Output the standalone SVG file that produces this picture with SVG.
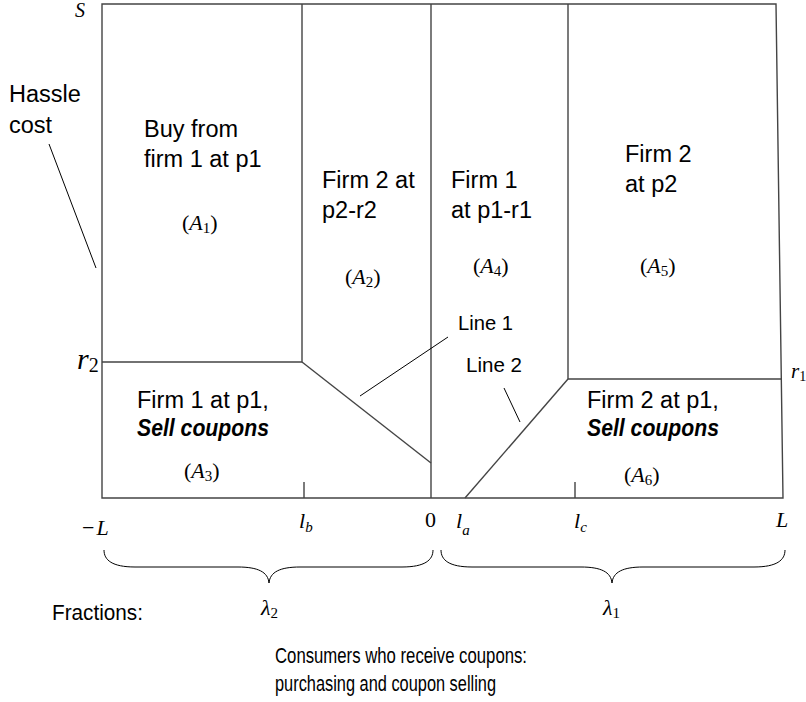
<svg xmlns="http://www.w3.org/2000/svg" width="806" height="702" viewBox="0 0 806 702">
<style>
.frame{fill:none;stroke:#444;stroke-width:1.4}
.ptr{fill:none;stroke:#000;stroke-width:1}
.t{font-family:"Liberation Sans",Arial,sans-serif;font-size:23.5px;fill:#000}
.b{font-family:"Liberation Sans",Arial,sans-serif;font-size:22px;fill:#000}
.bi{font-weight:bold;font-style:italic}
.m{font-family:"Liberation Serif","Times New Roman",serif;font-size:22px;fill:#000}
.i{font-style:italic}
.sub{font-size:15px}
</style>
<rect width="806" height="702" fill="#fff"/>
<g id="connectors">
<path class="frame" d="M102,4 L776,4 L783,498 L102,498 Z"/>
<path class="frame" d="M302,4 L302,362 L102,362"/>
<path class="frame" d="M302,362 L431,463"/>
<path class="frame" d="M431,4 L431,498"/>
<path class="frame" d="M568,4 L568,379 L782,379"/>
<path class="frame" d="M568,379 L465,498"/>
<path class="frame" d="M304,482 L304,498 M575,482 L575,498"/>
<path class="ptr" d="M49,144 L96,268"/>
<path class="ptr" d="M360,396 L448,337"/>
<path class="ptr" d="M504,388 L520,422"/>
<path class="ptr" d="M104,550 C104,560 112,567 135,567 L238,567 C258,567 268,572 269,583 C270,572 280,567 300,567 L402,567 C425,567 433,560 433,550"/>
<path class="ptr" d="M441,550 C441,560 449,567 472,567 L581,567 C601,567 611,572 612,583 C613,572 623,567 643,567 L754,567 C777,567 785,560 785,550"/>
</g>
<g id="axis-labels">
<text class="m i" x="75" y="17" style="font-size:20px">S</text>
<text class="m" x="77" y="369" style="font-size:30px"><tspan class="i">r</tspan><tspan style="font-size:20px" dy="3">2</tspan></text>
<text class="m" x="791" y="378" style="font-size:21px"><tspan class="i">r</tspan><tspan style="font-size:14px" dy="3">1</tspan></text>
<text class="m" x="82" y="535">−<tspan class="i" dx="2">L</tspan></text>
<text class="m" x="299" y="528"><tspan class="i">l</tspan><tspan class="sub i" dy="4">b</tspan></text>
<text class="m" x="425" y="527">0</text>
<text class="m" x="456" y="528"><tspan class="i">l</tspan><tspan class="sub i" dy="7">a</tspan></text>
<text class="m" x="574" y="528"><tspan class="i">l</tspan><tspan class="sub i" dy="4">c</tspan></text>
<text class="m i" x="776" y="527">L</text>
<text class="m" x="261" y="615"><tspan class="i">λ</tspan><tspan class="sub" dy="3">2</tspan></text>
<text class="m" x="603" y="615"><tspan class="i">λ</tspan><tspan class="sub" dy="3">1</tspan></text>
</g>
<g id="hassle">
<text class="t" x="9" y="102">Hassle</text>
<text class="t" x="9" y="133">cost</text>
</g>
<g id="A1">
<text class="t" x="144" y="137">Buy from</text>
<text class="t" x="144" y="167">firm 1 at p1</text>
<text class="m" x="182" y="230">(<tspan class="i">A</tspan><tspan class="sub" dy="3">1</tspan><tspan dy="-3">)</tspan></text>
</g>
<g id="A2">
<text class="t" x="322" y="188">Firm 2 at</text>
<text class="t" x="322" y="218">p2-r2</text>
<text class="m" x="345" y="284">(<tspan class="i">A</tspan><tspan class="sub" dy="3">2</tspan><tspan dy="-3">)</tspan></text>
</g>
<g id="A4">
<text class="t" x="451" y="188">Firm 1</text>
<text class="t" x="451" y="218">at p1-r1</text>
<text class="m" x="473" y="273">(<tspan class="i">A</tspan><tspan class="sub" dy="3">4</tspan><tspan dy="-3">)</tspan></text>
</g>
<g id="A5">
<text class="t" x="625" y="162">Firm 2</text>
<text class="t" x="625" y="192">at p2</text>
<text class="m" x="640" y="273">(<tspan class="i">A</tspan><tspan class="sub" dy="3">5</tspan><tspan dy="-3">)</tspan></text>
</g>
<g id="A3">
<text class="t" x="137" y="408">Firm 1 at p1,</text>
<text class="t bi" x="137" y="436" textLength="132" lengthAdjust="spacingAndGlyphs">Sell coupons</text>
<text class="m" x="184" y="478">(<tspan class="i">A</tspan><tspan class="sub" dy="3">3</tspan><tspan dy="-3">)</tspan></text>
</g>
<g id="A6">
<text class="t" x="587" y="408">Firm 2 at p1,</text>
<text class="t bi" x="587" y="436" textLength="132" lengthAdjust="spacingAndGlyphs">Sell coupons</text>
<text class="m" x="624" y="482">(<tspan class="i">A</tspan><tspan class="sub" dy="3">6</tspan><tspan dy="-3">)</tspan></text>
</g>
<g id="line-labels">
<text class="b" x="458" y="330" style="font-size:21px" textLength="55" lengthAdjust="spacingAndGlyphs">Line 1</text>
<text class="b" x="466" y="372" style="font-size:21px" textLength="56" lengthAdjust="spacingAndGlyphs">Line 2</text>
</g>
<g id="bottom-text">
<text class="b" x="52" y="620" textLength="91" lengthAdjust="spacingAndGlyphs">Fractions:</text>
<text class="b" x="275" y="663" textLength="252" lengthAdjust="spacingAndGlyphs">Consumers who receive coupons:</text>
<text class="b" x="275" y="691" textLength="221" lengthAdjust="spacingAndGlyphs">purchasing and coupon selling</text>
</g>
</svg>
